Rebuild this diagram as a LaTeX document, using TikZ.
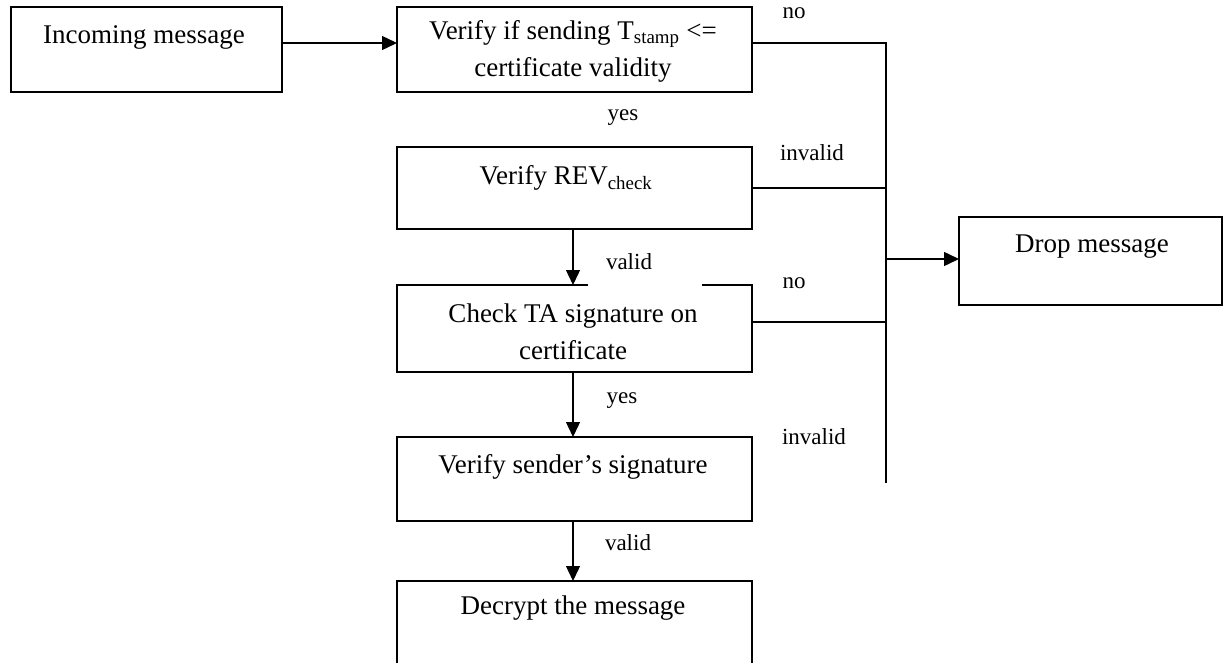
\documentclass[tikz,border=0pt]{standalone}
\usepackage{fontspec}
\setmainfont{Liberation Serif}
\usetikzlibrary{arrows.meta}
\begin{document}
\begin{tikzpicture}[x=1pt,y=-1pt,
  box/.style={draw=black,line width=1.4pt,rectangle,inner sep=0pt,outer sep=0pt},
  nobox/.style={rectangle,inner sep=0pt,outer sep=0pt},
  btext/.style={font=\fontsize{27}{37}\selectfont,align=center,inner sep=0pt},
  lbl/.style={font=\fontsize{23}{28}\selectfont,inner sep=0pt},
  conn/.style={line width=1.4pt},
  arr/.style={line width=1.4pt,-{Triangle[length=15pt,width=14pt]}}]
\useasboundingbox (0,0) rectangle (1223,663);
\clip (0,0) rectangle (1223,663);
\fill[white] (0,0) rectangle (1223,663);
% boxes
\node[box,minimum width=271pt,minimum height=85pt] (inc) at (146.5,49.5) {};
\node[box,minimum width=355pt,minimum height=85pt] (ver) at (574.5,49.5) {};
\node[box,minimum width=355pt,minimum height=82pt] (rev) at (574.5,188) {};
\node[nobox,minimum width=355pt,minimum height=87pt] (ta) at (574.5,328.5) {};
\node[box,minimum width=355pt,minimum height=84pt] (snd) at (574.5,479) {};
\node[box,minimum width=355pt,minimum height=120pt] (dec) at (574.5,641) {};
\node[box,minimum width=263pt,minimum height=88pt] (drop) at (1090.5,261) {};
% box texts
\node[btext] (tinc) at (144,37) {Incoming message};
\node[btext] (tver) at (573,51.5) {Verify if sending T\textsubscript{stamp} <=\\certificate validity};
\node[btext] (trev) at (566,178) {Verify REV\textsubscript{check}};
\node[btext] (tta) at (573,332) {Check TA signature on\\certificate};
\node[btext] (tsnd) at (573,467) {Verify sender’s signature};
\node[btext] (tdec) at (573,608) {Decrypt the message};
\node[btext] (tdrop) at (1092,247) {Drop message};
% ta box with gap in top edge
\coordinate (gapL) at (588,285);
\coordinate (gapR) at (702,285);
\draw[conn] (gapL) -- (ta.north west) -- (ta.south west) -- (ta.south east) -- (ta.north east) -- (gapR);
% bus
\coordinate (bt) at (886,43);
\coordinate (bb) at (886,483);
\coordinate (bm) at (886,259);
\draw[arr] ([yshift=6.5pt]inc.east) -- ([yshift=6.5pt]ver.west);
\draw[conn] ([yshift=6.5pt]ver.east) -- (bt) -- (bb);
\draw[conn] (rev.east) -- (rev.east -| bt);
\draw[conn] ([yshift=6.5pt]ta.east) -- ([yshift=6.5pt]ta.east -| bt);
\draw[arr] (bm) -- (bm -| drop.west);
\draw[arr] ([xshift=-1.5pt]rev.south) -- ([xshift=-1.5pt]ta.north);
\draw[arr] ([xshift=-1.5pt]ta.south) -- ([xshift=-1.5pt]snd.north);
\draw[arr] ([xshift=-1.5pt]snd.south) -- ([xshift=-1.5pt]dec.north);
% labels
\node[lbl] (l1) at (794,13) {no};
\node[lbl] (l2) at (623,118) {yes};
\node[lbl] (l3) at (812,153) {invalid};
\node[lbl] (l4) at (629,262) {valid};
\node[lbl] (l5) at (794,283) {no};
\node[lbl] (l6) at (622,401) {yes};
\node[lbl] (l7) at (814,437) {invalid};
\node[lbl] (l8) at (628,543) {valid};
\end{tikzpicture}
\end{document}
